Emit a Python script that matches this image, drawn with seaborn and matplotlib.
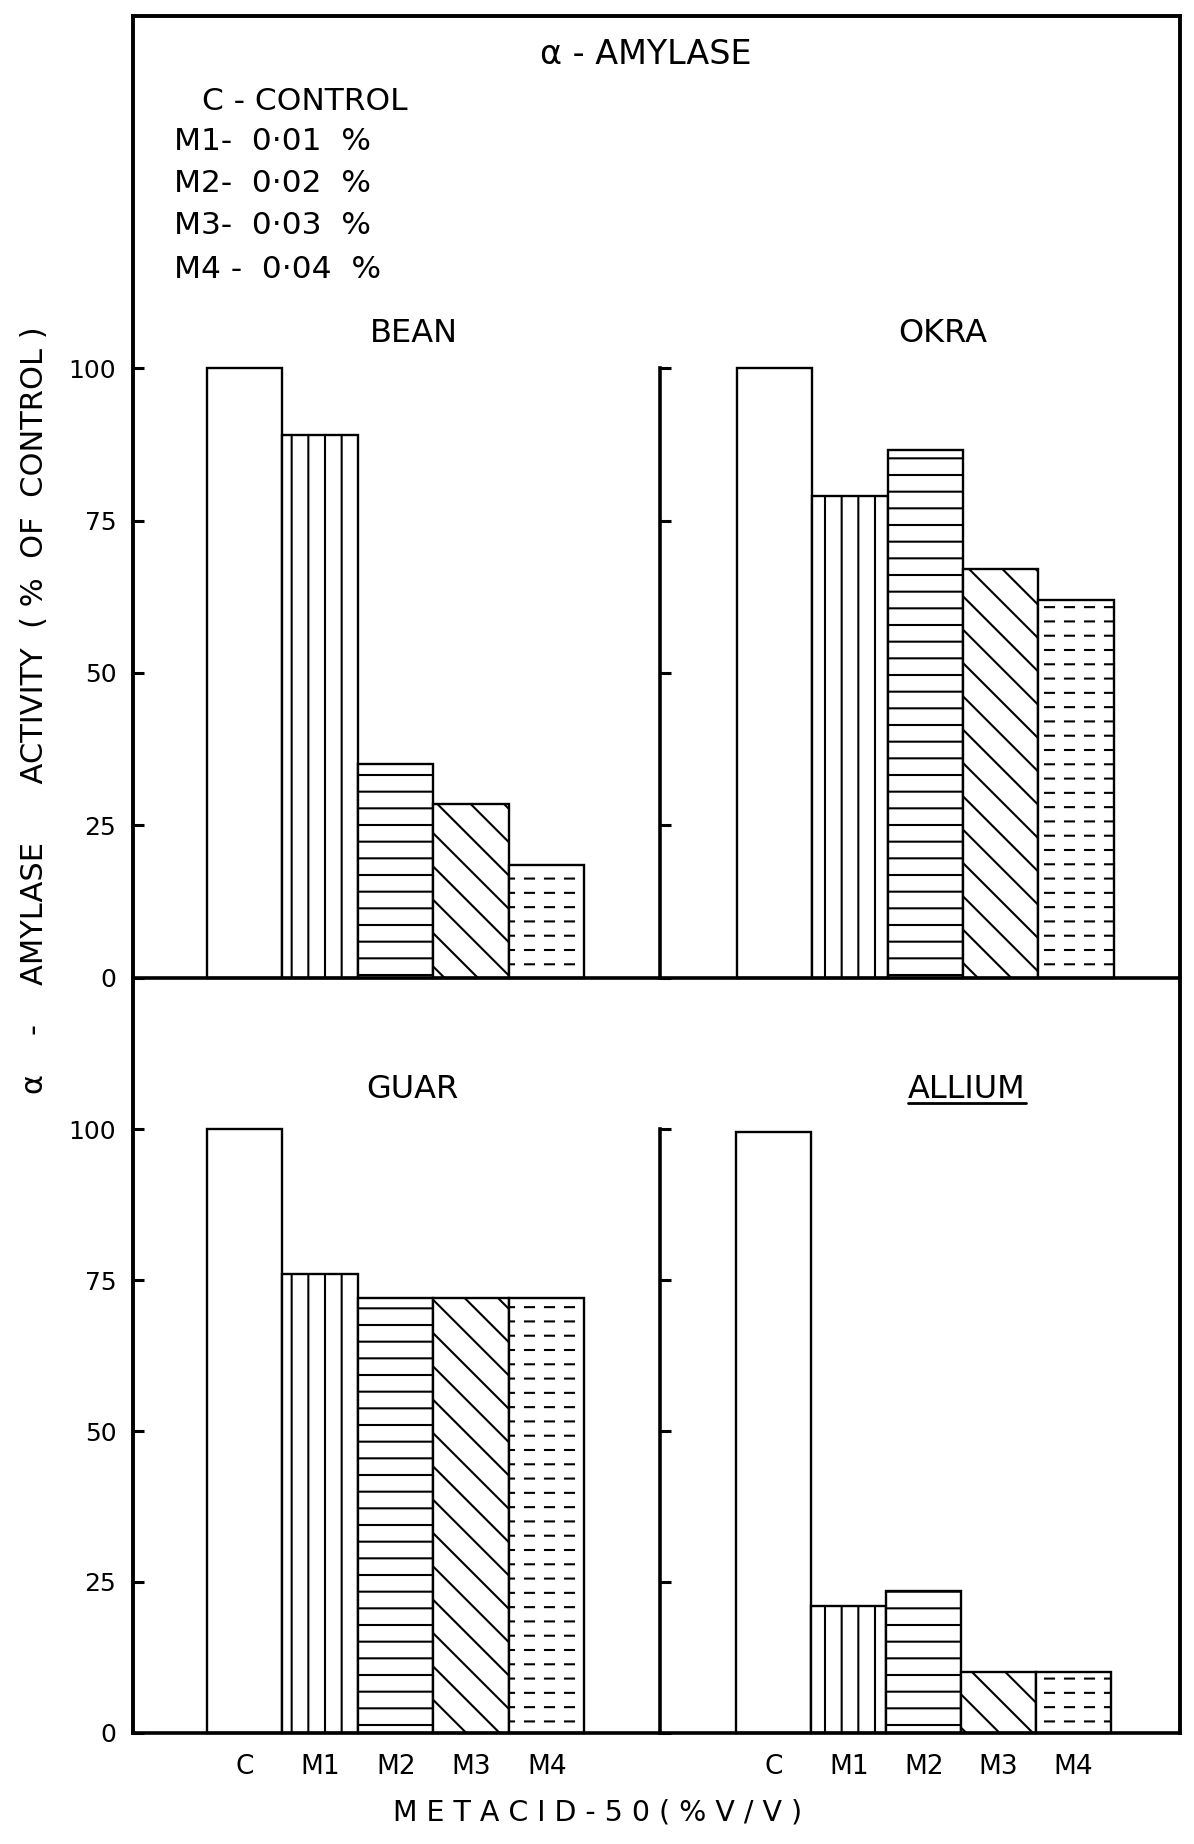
import warnings
import numpy as np
import pandas as pd
import matplotlib
matplotlib.use("Agg")
import matplotlib.pyplot as plt
import matplotlib.hatch as mhatch
from matplotlib.path import Path
from matplotlib.lines import Line2D
import seaborn as sns

# ---------------- data ----------------
treatments = ["C", "M1", "M2", "M3", "M4"]
plants = ["BEAN", "OKRA", "GUAR", "ALLIUM"]
bean = [100, 89, 35, 28.5, 18.5]
okra = [100, 79, 86.5, 67, 62]
guar = [100, 76, 72, 72, 72]
allium = [99.5, 21, 23.5, 10, 10]
yticks = [0, 25, 50, 75, 100]
legend_lines = ["C - CONTROL", "M1-  0·01  %", "M2-  0·02  %", "M3-  0·03  %", "M4 -  0·04  %"]
title_text = "α - AMYLASE"
ylabel_text = "α    -    AMYLASE      ACTIVITY  ( %  OF  CONTROL )"
xlabel_text = "M E T A C I D - 5 0 ( % V / V )"
hatches = ["", "|", "-", "\\", "_"]


# custom dashed horizontal hatch for M4
class DashedHorizontalHatch(mhatch.HatchPatternBase):
    rows_per_unit = 7
    dashes_per_row = 5
    dash_fraction = 0.45

    def __init__(self, hatch, density):
        n = hatch.count("_")
        self.num_rows = self.rows_per_unit * n
        self.num_vertices = self.num_rows * self.dashes_per_row * 2

    def set_vertices_and_codes(self, vertices, codes):
        k = 0
        for i in range(self.num_rows):
            y = (i + 0.5) / self.num_rows
            for j in range(self.dashes_per_row):
                x0 = (j + 0.25) / self.dashes_per_row
                x1 = x0 + self.dash_fraction / self.dashes_per_row
                vertices[k] = (x0, y)
                vertices[k + 1] = (x1, y)
                codes[k] = Path.MOVETO
                codes[k + 1] = Path.LINETO
                k += 2


mhatch._hatch_types.append(DashedHorizontalHatch)

sns.set_theme(style="white")
plt.rcParams["font.family"] = ["DejaVu Sans"]
plt.rcParams["hatch.linewidth"] = 1.5
plt.rcParams["hatch.color"] = "black"
plt.rcParams["text.color"] = "black"
plt.rcParams["xtick.color"] = "black"
plt.rcParams["ytick.color"] = "black"
plt.rcParams["axes.labelcolor"] = "black"

df = pd.DataFrame({
    "plant": np.repeat(plants, len(treatments)),
    "treatment": treatments * len(plants),
    "value": bean + okra + guar + allium,
})

W, H = 1194, 1844
fig = plt.figure(figsize=(W / 100, H / 100), dpi=100)
fig.patch.set_facecolor("white")


def fx(px):
    return px / W


def fy(py):
    return 1 - py / H


x_left, x_mid, x_right = 133, 660, 1180
up_top, up_bot = 368.2, 977.6
lo_top, lo_bot = 1129.3, 1732.8

panels = [
    ("BEAN", (x_left, x_mid, up_top, up_bot), True, False, (-1.48, 5.5)),
    ("OKRA", (x_mid, x_right, up_top, up_bot), False, False, (-1.52, 5.38)),
    ("GUAR", (x_left, x_mid, lo_top, lo_bot), True, True, (-1.48, 5.5)),
    ("ALLIUM", (x_mid, x_right, lo_top, lo_bot), False, True, (-1.52, 5.42)),
]

for plant, (l, r, t, b), left_panel, bottom_row, xlim in panels:
    ax = fig.add_axes([fx(l), fy(b), fx(r) - fx(l), fy(t) - fy(b)])
    sub = df[df["plant"] == plant]
    sns.barplot(data=sub, x="treatment", y="value", order=treatments,
                color="white", saturation=1, edgecolor="black", linewidth=1.7,
                width=1.0, errorbar=None, ax=ax)
    with warnings.catch_warnings():
        warnings.simplefilter("ignore")
        for patch, h in zip(ax.patches, hatches):
            patch.set_hatch(h)
            patch.set_clip_on(False)
    ax.set_xlim(*xlim)
    ax.set_ylim(0, 100)
    ax.set_yticks(yticks)
    ax.patch.set_alpha(0)
    ax.set_xlabel("")
    ax.set_ylabel("")
    for s in ["top", "right"]:
        ax.spines[s].set_visible(False)
    ax.spines["left"].set_visible(not left_panel)
    ax.spines["left"].set_bounds(0, 100)
    ax.spines["left"].set_linewidth(2.6)
    ax.spines["left"].set_color("black")
    ax.spines["bottom"].set_linewidth(2.6)
    ax.spines["bottom"].set_color("black")
    ax.tick_params(axis="y", direction="in", length=8, width=2.2, color="black",
                   labelsize=18, labelcolor="black", pad=12, left=True,
                   labelleft=left_panel)
    ax.tick_params(axis="x", length=0, labelsize=19, labelcolor="black", pad=15,
                   bottom=False, labelbottom=bottom_row)
    ax.grid(False)

# outer frame (open at the bottom: bottom is the lower x axis)
frame_kw = dict(transform=fig.transFigure, color="black", lw=2.8, solid_capstyle="projecting")
fig.add_artist(Line2D([fx(x_left), fx(x_left)], [fy(16.5), fy(lo_bot)], **frame_kw))
fig.add_artist(Line2D([fx(x_left), fx(x_right)], [fy(16.5), fy(16.5)], **frame_kw))
fig.add_artist(Line2D([fx(x_right), fx(x_right)], [fy(16.5), fy(lo_bot)], **frame_kw))

# texts
fig.text(fx(646), fy(54), title_text, ha="center", va="center", fontsize=24)
legend_x = [202, 174, 174, 174, 174]
legend_y = [101, 141, 183, 225, 269]
for txt, lx, ly in zip(legend_lines, legend_x, legend_y):
    fig.text(fx(lx), fy(ly), txt, ha="left", va="center", fontsize=22.5)

title_kw = dict(ha="center", va="center", fontsize=23)
fig.text(fx(414), fy(334), "BEAN", **title_kw)
fig.text(fx(943), fy(334), "OKRA", **title_kw)
fig.text(fx(412), fy(1089), "GUAR", **title_kw)
t_all = fig.text(fx(967), fy(1089), "ALLIUM", **title_kw)

fig.text(fx(35), fy(710), ylabel_text, ha="center", va="center", rotation=90, fontsize=22)
fig.text(fx(598), fy(1812), xlabel_text, ha="center", va="center", fontsize=20.5)

# underline ALLIUM
fig.canvas.draw()
bb = t_all.get_window_extent()
uy = bb.y0 + 1
fig.add_artist(Line2D([bb.x0 / W, bb.x1 / W], [uy / H, uy / H],
                      transform=fig.transFigure, color="black", lw=2))

fig.savefig("out.png", dpi=100, facecolor="white")
